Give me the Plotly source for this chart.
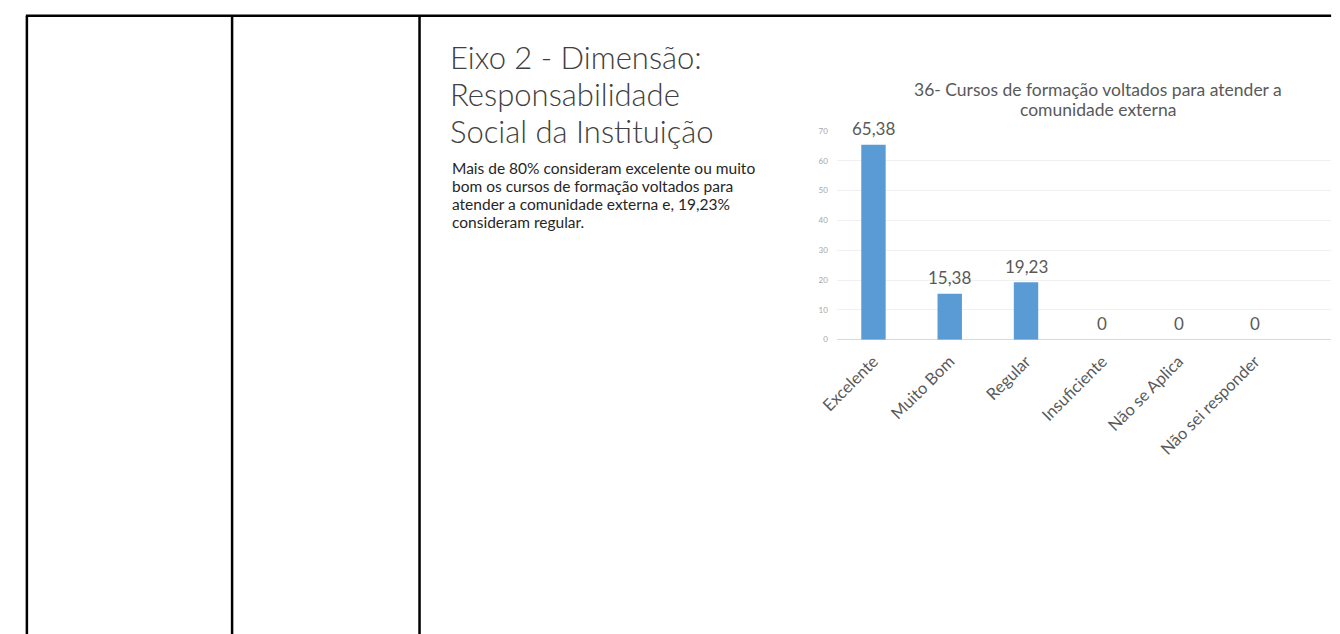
import plotly.graph_objects as go

W, H = 1340, 634

categories = ["Excelente", "Muito Bom", "Regular", "Insuficiente", "Não se Aplica", "Não sei responder"]
values = [65.38, 15.38, 19.23, 0, 0, 0]
y_ticks = [0, 10, 20, 30, 40, 50, 60, 70]

chart_title_lines = ["36- Cursos de formação voltados para atender a", "comunidade externa"]
heading_lines = ["Eixo 2 - Dimensão:", "Responsabilidade", "Social da Instituição"]
paragraph_lines = [
    "Mais de 80% consideram excelente ou muito",
    "bom os cursos de formação voltados para",
    "atender a comunidade externa e, 19,23%",
    "consideram regular.",
]

FONT = "Lato, Open Sans, sans-serif"


def fmt(v):
    return "0" if v == 0 else f"{v:.2f}".replace(".", ",")


def px(x):
    return x / W


def py(y):
    return 1 - y / H


fig = go.Figure()
fig.add_trace(go.Bar(
    x=categories,
    y=values,
    marker=dict(color="#5B9BD5", line=dict(width=0)),
    hoverinfo="skip",
))

# data labels, placed from the data through the axes
for c, v in zip(categories, values):
    fig.add_annotation(
        x=c, y=v, xref="x", yref="y", text=fmt(v), showarrow=False,
        yanchor="middle", yshift=16,
        font=dict(family=FONT, size=17, color="#595959"),
    )

fig.update_layout(
    width=W, height=H, autosize=False,
    margin=dict(l=0, r=0, t=0, b=0),
    paper_bgcolor="white", plot_bgcolor="white",
    showlegend=False,
    bargap=0.68,
    font=dict(family=FONT, color="#595959"),
    xaxis=dict(
        domain=[px(830), px(1331)],
        range=[-0.48, 6.0],
        tickangle=-45,
        tickfont=dict(size=16.5, color="#595959"),
        showgrid=False, showline=False, ticks="",
        ticklabelstandoff=8,
        fixedrange=True,
    ),
    yaxis=dict(
        domain=[py(340), py(128)],
        range=[0, 70],
        tickvals=y_ticks,
        tickfont=dict(size=8, color="#a6a6a6"),
        showgrid=True, gridcolor="#f0f0f0", gridwidth=1,
        zeroline=True, zerolinecolor="#d9d9d9", zerolinewidth=1,
        showline=False, ticks="",
        ticklabelstandoff=8,
        fixedrange=True,
    ),
)

# chart title
for i, line in enumerate(chart_title_lines):
    fig.add_annotation(
        x=px(1095), y=py(86 + 20 * i), xref="paper", yref="paper",
        text=line, showarrow=False, align="center",
        xanchor="center", yanchor="middle",
        font=dict(family=FONT, size=17.5, color="#595959"),
    )

# heading text
for i, line in enumerate(heading_lines):
    fig.add_annotation(
        x=px(436), y=py(53 + 37.5 * i), xref="paper", yref="paper",
        text=line, showarrow=False, xanchor="left", yanchor="middle",
        font=dict(family=FONT, size=31, color="#404040", weight=300),
    )

for i, line in enumerate(paragraph_lines):
    fig.add_annotation(
        x=px(438), y=py(166 + 18 * i), xref="paper", yref="paper",
        text=line, showarrow=False, xanchor="left", yanchor="middle",
        font=dict(family=FONT, size=15.5, color="#262626"),
    )

# table borders
line_style = dict(color="black", width=2.5)
fig.add_shape(type="line", xref="paper", yref="paper",
              x0=px(8), x1=px(1331), y0=py(11), y1=py(11), line=line_style)
for xv in [9, 217, 407]:
    fig.add_shape(type="line", xref="paper", yref="paper",
                  x0=px(xv), x1=px(xv), y0=py(11), y1=py(640), line=line_style)

fig.write_html(
    "out.html",
    config={"displayModeBar": False},
    post_script="document.body.style.margin='0';document.body.style.overflow='hidden';",
)
